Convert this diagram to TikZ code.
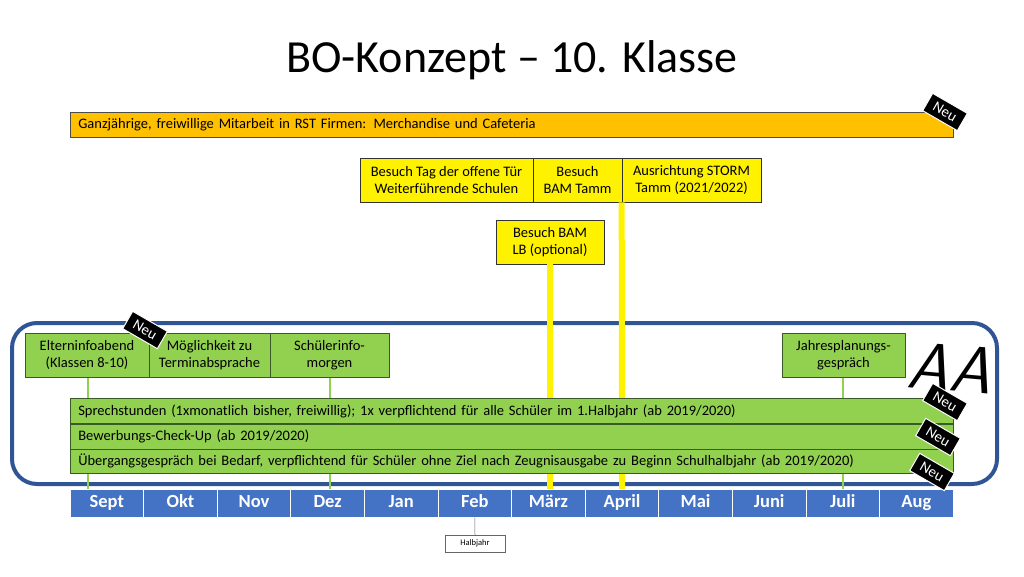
\documentclass[tikz,border=0pt]{standalone}
\usepackage{fontspec}
\setmainfont{Carlito}
\begin{document}
\begin{tikzpicture}[x=1pt,y=-1pt,
  every node/.style={font=\fontsize{14.5}{17.5}\selectfont},
  ybox/.style={draw=black!80,fill=yellow,line width=0.6pt,align=center,inner sep=0pt},
  gfill/.style={fill={rgb,255:red,146;green,208;blue,80}, draw={rgb,255:red,60;green,90;blue,40}, line width=0.6pt, inner sep=0pt, align=center},
  mon/.style={fill={rgb,255:red,68;green,114;blue,196},draw=white,line width=1pt,text=white,font=\fontsize{18.5}{20}\selectfont\bfseries,minimum width=73.6pt,minimum height=28pt,inner sep=0pt,text height=12pt,text depth=3pt},
  neu/.style={fill=black,draw=white,line width=1pt,text=white,rotate=-30,minimum width=40pt,minimum height=20pt,inner sep=1pt,font=\fontsize{15}{16}\selectfont},
  gline/.style={draw={rgb,255:red,146;green,208;blue,80},line width=2.5pt},
  yline/.style={draw=yellow,line width=6pt}]
\useasboundingbox (0,0) rectangle (1024,576);
\node[font=\fontsize{46}{52}\selectfont] (title) at (512,60) {BO-Konzept – 10. Klasse};
% orange bar
\node[fill={rgb,255:red,255;green,192;blue,0},draw=black!70,line width=0.6pt,minimum width=883pt,minimum height=25pt,inner sep=0pt,anchor=west,text width=875pt,align=left] (orange) at (70,124.5) {\hspace{4pt}Ganzjährige, freiwillige Mitarbeit in RST Firmen: Merchandise und Cafeteria};
% yellow boxes
\node[ybox,minimum width=173pt,minimum height=44pt] (tag) at (446.5,180) {Besuch Tag der offene Tür\\Weiterführende Schulen};
\node[ybox,minimum width=89pt,minimum height=44pt] (bam) at (577.5,180) {Besuch\\BAM Tamm};
\node[ybox,minimum width=139pt,minimum height=44pt] (storm) at (691.5,180) {Ausrichtung STORM\\Tamm (2021/2022)};
\node[ybox,minimum width=108pt,minimum height=44pt] (lb) at (550,242) {Besuch BAM\\LB (optional)};
% months
\foreach \m [count=\i] in {Sept,Okt,Nov,Dez,Jan,Feb,März,April,Mai,Juni,Juli,Aug}{
  \node[mon] (m\i) at ({70+73.6*(\i-0.5)},503) {\m};
}
% blue rounded rect
\draw[draw={rgb,255:red,47;green,85;blue,151},line width=4pt,rounded corners=25pt] (12,323) rectangle (997,484);
% yellow lines
\coordinate (ly) at (550,489);
\coordinate (sy) at (622,489);
\draw[yline] (lb.south) -- (ly);
\draw[yline] (storm.south west) -- (sy);
% green lines
\coordinate (g1) at (88,489);
\coordinate (g2) at (330,489);
\coordinate (g3) at (843,489);
\coordinate (e1) at (88,377);
\coordinate (e2) at (330,377);
\coordinate (e3) at (843,377);
\draw[gline] (e1) -- (g1);
\draw[gline] (e2) -- (g2);
\draw[gline] (e3) -- (g3);
% green boxes
\node[gfill,minimum width=124pt,minimum height=44pt] (eltern) at (87,355) {Elterninfoabend\\(Klassen 8-10)};
\node[gfill,minimum width=121pt,minimum height=44pt] (moeg) at (209.5,355) {Möglichkeit zu\\Terminabsprache};
\node[gfill,minimum width=119pt,minimum height=44pt] (schueler) at (329.5,355) {Schülerinfo-\\morgen};
\node[gfill,minimum width=123pt,minimum height=44pt] (jahr) at (843.5,355) {Jahresplanungs-\\gespräch};
% green bars
\node[gfill,minimum width=883pt,minimum height=25.5pt,anchor=west,text width=875pt,align=left] (sprech) at (70,411) {\hspace{4pt}Sprechstunden (1xmonatlich bisher, freiwillig); 1x verpflichtend für alle Schüler im 1.Halbjahr (ab 2019/2020)};
\node[gfill,minimum width=883pt,minimum height=25pt,anchor=west,text width=875pt,align=left] (bewerb) at (70,436.5) {\hspace{4pt}Bewerbungs-Check-Up (ab 2019/2020)};
\node[gfill,minimum width=883pt,minimum height=24pt,anchor=west,text width=875pt,align=left] (ueber) at (70,461) {\hspace{4pt}Übergangsgespräch bei Bedarf, verpflichtend für Schüler ohne Ziel nach Zeugnisausgabe zu Beginn Schulhalbjahr (ab 2019/2020)};
% Halbjahr
\node[draw=black!60,line width=0.5pt,minimum width=60pt,minimum height=17pt,inner sep=0pt,font=\fontsize{8.5}{9}\selectfont] (halb) at (475,543.5) {Halbjahr};
\draw[black!60,line width=0.5pt] (m6.south) -- (halb.north);
% AA
\node[font=\fontsize{66}{66}\sffamily\itshape,rotate=-5] (aa) at (950,368) {AA};
% Neu tags
\node[neu] (n1) at (945,112) {Neu};
\node[neu] (n2) at (145,330) {Neu};
\node[neu] (n3) at (945,402) {Neu};
\node[neu] (n4) at (938,437) {Neu};
\node[neu] (n5) at (932,472) {Neu};
\end{tikzpicture}
\end{document}
